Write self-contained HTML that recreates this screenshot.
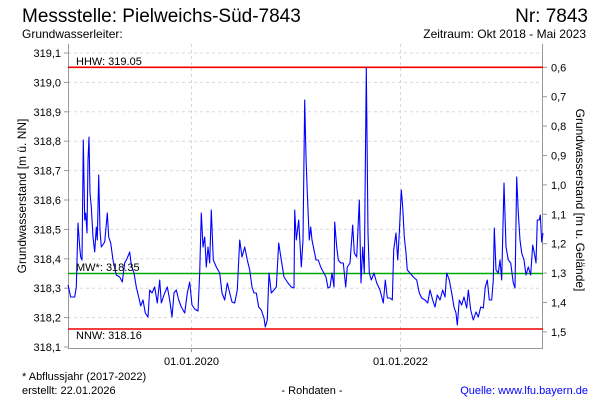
<!DOCTYPE html>
<html><head><meta charset="utf-8"><style>
html,body{margin:0;padding:0;background:#fff}
svg{display:block;font-family:"Liberation Sans",Arial,sans-serif}
</style></head><body>
<svg width="600" height="400" viewBox="0 0 600 400" xmlns="http://www.w3.org/2000/svg">
<rect width="600" height="400" fill="#fff"/>
<text x="22" y="22" font-size="19" fill="#000">Messstelle: Pielweichs-Süd-7843</text>
<text x="588" y="22" font-size="19" fill="#000" text-anchor="end">Nr: 7843</text>
<text x="22" y="38" font-size="12" fill="#000">Grundwasserleiter:</text>
<text x="586" y="38" font-size="12" fill="#000" text-anchor="end">Zeitraum: Okt 2018 - Mai 2023</text>
<g stroke="#d8d8d8" stroke-dasharray="3,3" stroke-width="1">
<line x1="68" x2="543" y1="53" y2="53"/><line x1="68" x2="543" y1="82.4" y2="82.4"/>
<line x1="68" x2="543" y1="111.8" y2="111.8"/><line x1="68" x2="543" y1="141.2" y2="141.2"/>
<line x1="68" x2="543" y1="170.6" y2="170.6"/><line x1="68" x2="543" y1="200" y2="200"/>
<line x1="68" x2="543" y1="229.4" y2="229.4"/><line x1="68" x2="543" y1="258.8" y2="258.8"/>
<line x1="68" x2="543" y1="288.2" y2="288.2"/><line x1="68" x2="543" y1="317.6" y2="317.6"/>
<line x1="191.5" x2="191.5" y1="44" y2="348"/><line x1="400.5" x2="400.5" y1="44" y2="348"/>
</g>
<g stroke="#999" stroke-width="1" fill="none">
<line x1="68.5" y1="44" x2="68.5" y2="348.5"/><line x1="542.5" y1="44" x2="542.5" y2="348.5"/>
<line x1="68" y1="348.5" x2="543" y2="348.5"/>
<line x1="64" x2="68" y1="53" y2="53"/><line x1="64" x2="68" y1="82.4" y2="82.4"/><line x1="64" x2="68" y1="111.8" y2="111.8"/><line x1="64" x2="68" y1="141.2" y2="141.2"/><line x1="64" x2="68" y1="170.6" y2="170.6"/><line x1="64" x2="68" y1="200" y2="200"/><line x1="64" x2="68" y1="229.4" y2="229.4"/><line x1="64" x2="68" y1="258.8" y2="258.8"/><line x1="64" x2="68" y1="288.2" y2="288.2"/><line x1="64" x2="68" y1="317.6" y2="317.6"/><line x1="64" x2="68" y1="347" y2="347"/>
<line x1="543" x2="547" y1="67.3" y2="67.3"/><line x1="543" x2="547" y1="96.7" y2="96.7"/><line x1="543" x2="547" y1="126.1" y2="126.1"/><line x1="543" x2="547" y1="155.5" y2="155.5"/><line x1="543" x2="547" y1="184.9" y2="184.9"/><line x1="543" x2="547" y1="214.3" y2="214.3"/><line x1="543" x2="547" y1="243.7" y2="243.7"/><line x1="543" x2="547" y1="273.1" y2="273.1"/><line x1="543" x2="547" y1="302.5" y2="302.5"/><line x1="543" x2="547" y1="331.9" y2="331.9"/>
<line x1="191.5" x2="191.5" y1="348" y2="352"/><line x1="400.5" x2="400.5" y1="348" y2="352"/>
</g>
<g font-size="11" fill="#000" text-anchor="end">
<text x="61" y="57">319,1</text><text x="61" y="86.4">319,0</text><text x="61" y="115.8">318,9</text><text x="61" y="145.2">318,8</text><text x="61" y="174.6">318,7</text><text x="61" y="204">318,6</text><text x="61" y="233.4">318,5</text><text x="61" y="262.8">318,4</text><text x="61" y="292.2">318,3</text><text x="61" y="321.6">318,2</text><text x="61" y="351">318,1</text>
</g>
<g font-size="11" fill="#000">
<text x="551" y="71.3">0,6</text><text x="551" y="100.7">0,7</text><text x="551" y="130.1">0,8</text><text x="551" y="159.5">0,9</text><text x="551" y="188.9">1,0</text><text x="551" y="218.3">1,1</text><text x="551" y="247.7">1,2</text><text x="551" y="277.1">1,3</text><text x="551" y="306.5">1,4</text><text x="551" y="335.9">1,5</text>
</g>
<text transform="translate(26,196) rotate(-90)" font-size="12" text-anchor="middle">Grundwasserstand [m ü. NN]</text>
<text transform="translate(576,200) rotate(90)" font-size="12" text-anchor="middle">Grundwasserstand [m u. Gelände]</text>
<text x="191.5" y="365" font-size="11" text-anchor="middle">01.01.2020</text>
<text x="400.5" y="365" font-size="11" text-anchor="middle">01.01.2022</text>
<line x1="68" x2="543" y1="67.3" y2="67.3" stroke="#e00" stroke-width="1.6"/>
<line x1="68" x2="543" y1="273.5" y2="273.5" stroke="#0a0" stroke-width="1.6"/>
<line x1="68" x2="543" y1="329" y2="329" stroke="#e00" stroke-width="1.6"/>
<polyline fill="none" stroke="#00f" stroke-width="1.1" stroke-linejoin="round" points="68,285 70.7,297 74.7,297 76.3,287 78,223 79.7,247 80.7,257 82,260 83.3,140 84.7,220 85.7,213 87,233 88,160 89,137 90,193 91.3,207 93,237 94.7,252 96.3,227 97.3,240 98.7,175 100,230 101.3,247 104.7,242 107.3,213 108.7,237 110.7,243 113,260 116.3,275 119.7,277 122.3,282 124.7,263 127.3,258 129.7,252 131.3,265 134,273 136.3,287 138.7,297 140.7,306 143,300 145.3,313 148,317 149.7,290 152,293 154.7,287 157.3,303 159.7,280 161.3,303 164.7,293 167.3,287 169.7,300 172,317 174,293 176.3,290 178.7,300 181.3,307 184.7,313 187.3,293 189.7,282 192,305 194.7,309 198,311 199.7,273 201.3,213 203,247 204.7,237 206.3,267 208,247 209.7,263 211.3,210 213.3,260 216.3,267 219.7,273 222,293 224.7,300 227.3,283 229.7,293 232,302 234.7,303 237.3,290 239.7,240 242,257 244.7,247 247.3,260 249.7,270 252,287 254,293 256.3,293 258.7,307 261.3,310 264,318 265.3,327 267.3,320 269,273 271.3,293 274,290 276.3,287 278.7,243 281.3,260 284,277 288,283 291.3,287 294,288 294.7,210 296.3,240 298.7,220 301.3,267 303,240 304.7,100 306,157 307.3,193 309.3,240 310.7,227 312,240 314,250 316,260 318.3,260 320.7,267 323.3,272 326,277 328,288 330,287 332,273 334,287 334.7,222 336.7,247 338.3,260 340.7,263 343.3,263 345.7,287 347.3,267 350,263 352.7,225 354.3,253 356.7,257 359.3,200 361,283 362.7,247 364.3,273 366.3,68 368,233 369.3,273 371.3,280 374,273 376.7,283 380,290 383.3,303 385.3,280 387.3,298 390,298 392.3,300 393.7,250 396,233 397.7,260 399.3,233 401.3,190 402.7,207 404.3,237 406,253 407.3,270 410,273 413.3,277 416.7,280 419.3,293 421.7,298 425,300 427.7,303 430,290 432.7,300 435,307 437.3,295 440,300 442.7,290 445,297 446.7,273 449.3,280 451.7,293 454,307 456,313 457.3,325 459.3,300 461.7,305 464,297 466.7,308 468.3,290 470.7,310 473.3,320 476,312 478.3,317 480.7,307 483.3,308 485.3,287 487.3,280 489.3,300 491.7,300 493.3,280 494.3,228 496,270 498.3,273 500,260 501.7,280 504,183 506,247 508.3,260 510.7,263 513.3,283 515,288 516.7,177 518.3,213 520,240 521.7,253 524,260 526,275 528.3,267 530.7,275 532.7,245 534.3,253 536,263 537.3,220 539.3,220 540.3,215 541.7,242 543,233"/>
<text x="76" y="65" font-size="11">HHW: 319.05</text>
<text x="76" y="271" font-size="11">MW*: 318.35</text>
<text x="76" y="339" font-size="11">NNW: 318.16</text>
<text x="22" y="380" font-size="11">* Abflussjahr (2017-2022)</text>
<text x="22" y="394" font-size="11">erstellt:  22.01.2026</text>
<text x="312" y="394" font-size="11" text-anchor="middle">- Rohdaten -</text>
<text x="588" y="394" font-size="11" fill="#00f" text-anchor="end">Quelle: www.lfu.bayern.de</text>
</svg>
</body></html>
